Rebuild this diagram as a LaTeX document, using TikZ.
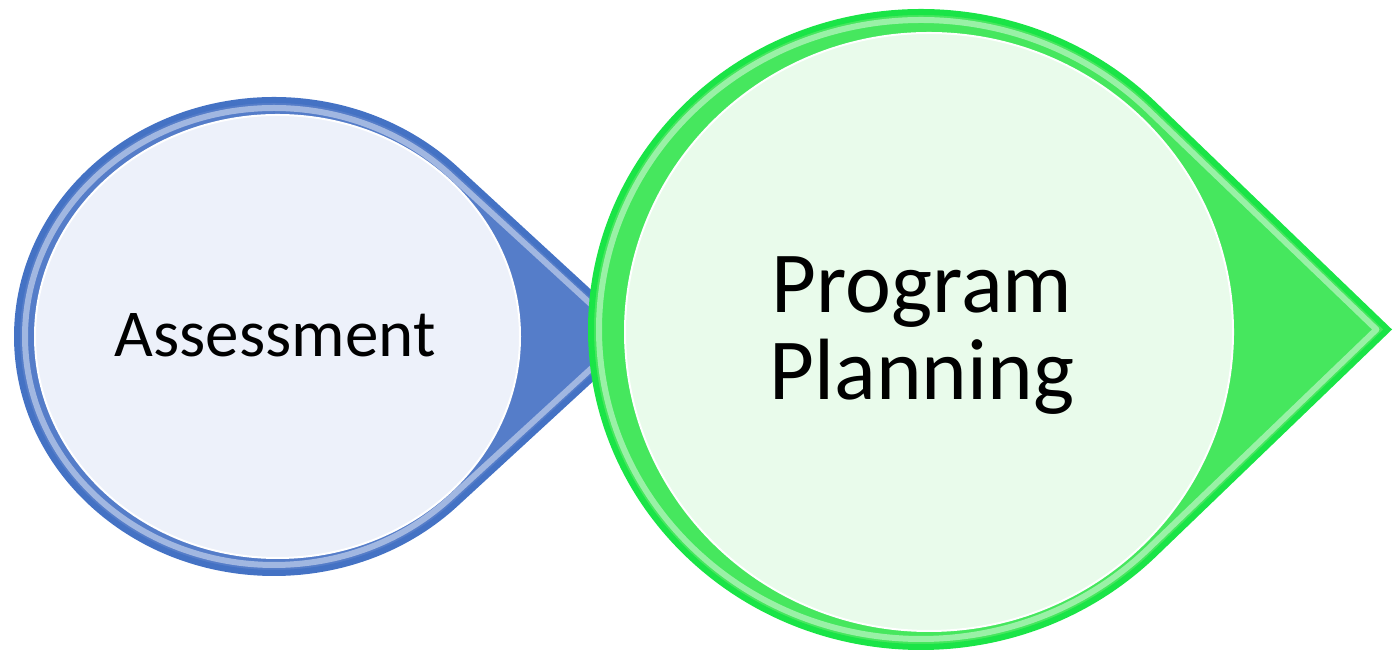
\documentclass[tikz,border=0pt]{standalone}
\usepackage{fontspec}
\setmainfont{Carlito}
\definecolor{blueedge}{HTML}{4472C4}
\definecolor{bluepoint}{HTML}{557DC9}
\definecolor{bluein}{HTML}{EDF1FA}
\definecolor{greenedge}{HTML}{1AE447}
\definecolor{greenpoint}{HTML}{46E75E}
\definecolor{greenin}{HTML}{E9FBEB}
\tikzset{droppath/.style n args={4}{insert path={({#1+1.4142*(#3)},#2) -- ({#1+0.7071*(#3)},{#2+0.7071*(#4)}) arc[start angle=45,end angle=315,x radius={#3},y radius={#4}] -- cycle}}}
\begin{document}
\begin{tikzpicture}[x=0.5pt,y=0.5pt]
    \tikzstyle{rim}=[line width=3pt, line join=miter, miter limit=2]
    \tikzstyle{gloss}=[draw=white, line width=3pt, opacity=0.45, line join=round]
    \tikzstyle{label}=[inner sep=0pt, text=black]
    \useasboundingbox (0,0) rectangle (1395,651);
    % blue drop
    \filldraw[fill=bluepoint, draw=blueedge, rim, droppath={274}{314.5}{257}{236.5}];
    \path[gloss, droppath={274}{314.5}{249}{228.5}];
    \filldraw[fill=bluein, draw=white, line width=1pt] (277.5,314.5) ellipse[x radius=242.5, y radius=221.5];
    % green drop
    \filldraw[fill=greenpoint, draw=greenedge, rim, droppath={921}{321.5}{330}{317.5}];
    \path[gloss, droppath={921}{321.5}{322}{309.5}];
    \filldraw[fill=greenin, draw=white, line width=1pt] (929,319) ellipse[x radius=304, y radius=299];
    \node[label, font=\fontsize{33.5}{38}\selectfont] (d1) at (275,316) {Assessment};
    \node[label, align=center, font=\fontsize{43.5}{43.5}\selectfont] (d2) at (922,315) {Program\\Planning};
    %\draw (d1) -- (d2);
\end{tikzpicture}
\end{document}
